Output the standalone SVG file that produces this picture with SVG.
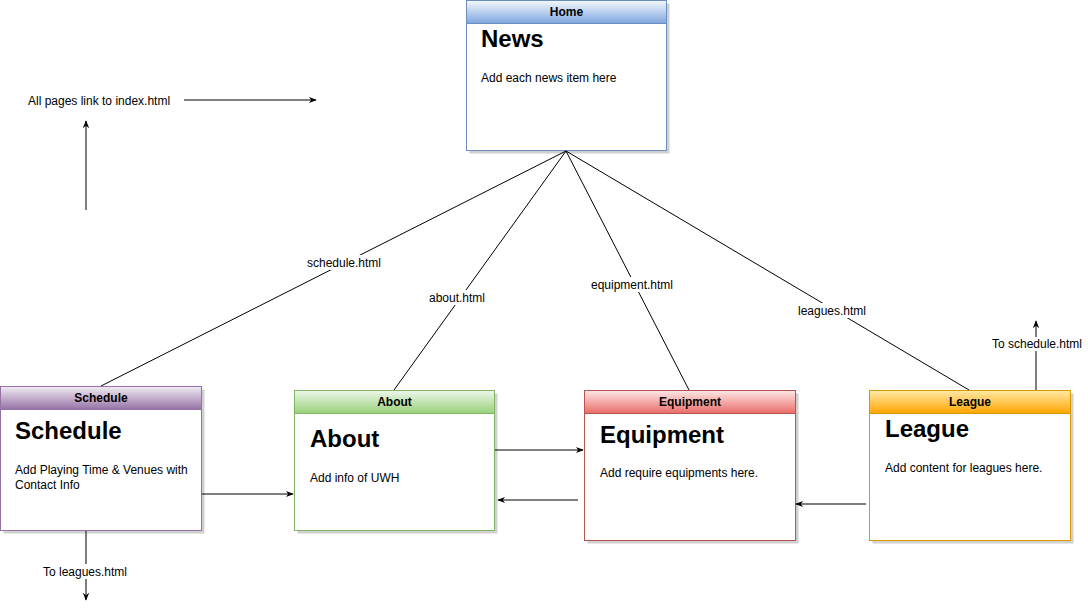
<svg xmlns="http://www.w3.org/2000/svg" width="1088" height="615" viewBox="0 0 1088 615">
  <style>
    text { font-family: "Liberation Sans", Arial, sans-serif; fill: #000; }
    .hdr { font-size: 12px; font-weight: bold; text-anchor: middle; }
    .ttl { font-size: 24px; font-weight: bold; }
    .body { font-size: 12px; }
    .lbl { font-size: 12px; text-anchor: middle; }
    .shadow { fill: #d0d0d0; }
    .card { fill: #fff; stroke-width: 1; }
    .link { stroke: #000; stroke-width: 1; fill: none; }
    .arrow { stroke: #000; stroke-width: 1; fill: none; marker-end: url(#head); }
  </style>
  <defs>
    <marker id="head" viewBox="0 0 10 10" refX="9" refY="5" markerWidth="8" markerHeight="8" markerUnits="userSpaceOnUse" orient="auto">
      <path d="M0,1 L10,5 L0,9 L3,5 Z" fill="#000"/>
    </marker>
    <linearGradient id="gBlue" x1="0" y1="0" x2="0" y2="1">
      <stop offset="0" stop-color="#f4f8fd"/>
      <stop offset="1" stop-color="#7ea6e0"/>
    </linearGradient>
    <linearGradient id="gPurple" x1="0" y1="0" x2="0" y2="1">
      <stop offset="0" stop-color="#f1ebf4"/>
      <stop offset="1" stop-color="#9673a6"/>
    </linearGradient>
    <linearGradient id="gGreen" x1="0" y1="0" x2="0" y2="1">
      <stop offset="0" stop-color="#eef7ec"/>
      <stop offset="1" stop-color="#97d077"/>
    </linearGradient>
    <linearGradient id="gRed" x1="0" y1="0" x2="0" y2="1">
      <stop offset="0" stop-color="#fde8e7"/>
      <stop offset="1" stop-color="#ea6b66"/>
    </linearGradient>
    <linearGradient id="gOrange" x1="0" y1="0" x2="0" y2="1">
      <stop offset="0" stop-color="#ffe9a6"/>
      <stop offset="1" stop-color="#ffa500"/>
    </linearGradient>
  </defs>

  <rect width="1088" height="615" fill="#fff"/>

  <!-- Home -->
  <g id="home">
    <rect class="shadow" x="469.5" y="3.5" width="200" height="150"/>
    <rect class="card" x="466.5" y="0.5" width="200" height="150" stroke="#6c8ebf"/>
    <rect x="466.5" y="0.5" width="200" height="23" fill="url(#gBlue)" stroke="#6c8ebf"/>
    <text class="hdr" x="566.5" y="16">Home</text>
    <text class="ttl" x="481" y="47">News</text>
    <text class="body" x="481" y="82">Add each news item here</text>
  </g>

  <!-- Schedule -->
  <g id="schedule">
    <rect class="shadow" x="3.5" y="389.5" width="201" height="144"/>
    <rect class="card" x="0.5" y="386.5" width="201" height="144" stroke="#9673a6"/>
    <rect x="0.5" y="386.5" width="201" height="23" fill="url(#gPurple)" stroke="#9673a6"/>
    <text class="hdr" x="101" y="402">Schedule</text>
    <text class="ttl" x="15" y="439">Schedule</text>
    <text class="body" x="15" y="474">Add Playing Time &amp; Venues with</text>
    <text class="body" x="15" y="489">Contact Info</text>
  </g>

  <!-- About -->
  <g id="about">
    <rect class="shadow" x="297.5" y="393.5" width="200" height="140"/>
    <rect class="card" x="294.5" y="390.5" width="200" height="140" stroke="#82b366"/>
    <rect x="294.5" y="390.5" width="200" height="23" fill="url(#gGreen)" stroke="#82b366"/>
    <text class="hdr" x="394.5" y="406">About</text>
    <text class="ttl" x="310" y="447">About</text>
    <text class="body" x="310" y="482">Add info of UWH</text>
  </g>

  <!-- Equipment -->
  <g id="equipment">
    <rect class="shadow" x="587.5" y="393.5" width="211" height="150"/>
    <rect class="card" x="584.5" y="390.5" width="211" height="150" stroke="#b85450"/>
    <rect x="584.5" y="390.5" width="211" height="23" fill="url(#gRed)" stroke="#b85450"/>
    <text class="hdr" x="690" y="406">Equipment</text>
    <text class="ttl" x="600" y="443">Equipment</text>
    <text class="body" x="600" y="477">Add require equipments here.</text>
  </g>

  <!-- League -->
  <g id="league">
    <rect class="shadow" x="872.5" y="393.5" width="201" height="150"/>
    <rect class="card" x="869.5" y="390.5" width="201" height="150" stroke="#d79b00"/>
    <rect x="869.5" y="390.5" width="201" height="23" fill="url(#gOrange)" stroke="#d79b00"/>
    <text class="hdr" x="970" y="406">League</text>
    <text class="ttl" x="885" y="437">League</text>
    <text class="body" x="885" y="472">Add content for leagues here.</text>
  </g>

  <!-- links between pages, drawn over the card shadows -->
  <g id="connectors">
    <line class="link" x1="566" y1="151" x2="101" y2="386"/>
    <line class="link" x1="566" y1="151" x2="394" y2="390"/>
    <line class="link" x1="566" y1="151" x2="689" y2="390"/>
    <line class="link" x1="566" y1="151" x2="969" y2="390"/>

    <rect x="305" y="255" width="78" height="15" fill="#fff"/>
    <text class="lbl" x="344" y="267">schedule.html</text>
    <rect x="427" y="290" width="60" height="15" fill="#fff"/>
    <text class="lbl" x="457" y="302">about.html</text>
    <rect x="589" y="277" width="86" height="15" fill="#fff"/>
    <text class="lbl" x="632" y="289">equipment.html</text>
    <rect x="796" y="303" width="72" height="15" fill="#fff"/>
    <text class="lbl" x="832" y="315">leagues.html</text>

    <line class="arrow" x1="202" y1="494" x2="293" y2="494"/>
    <line class="arrow" x1="495" y1="450" x2="583" y2="450"/>
    <line class="arrow" x1="578" y1="500" x2="498" y2="500"/>
    <line class="arrow" x1="866" y1="504" x2="796" y2="504"/>

    <line class="arrow" x1="1036" y1="390" x2="1036" y2="321"/>
    <rect x="990" y="337" width="94" height="14" fill="#fff"/>
    <text class="lbl" x="1037" y="348">To schedule.html</text>

    <line class="arrow" x1="86" y1="531" x2="86" y2="600"/>
    <rect x="40" y="564" width="92" height="15" fill="#fff"/>
    <text class="lbl" x="85" y="576">To leagues.html</text>

    <text class="body" x="28" y="105">All pages link to index.html</text>
    <line class="arrow" x1="184" y1="100" x2="316" y2="100"/>
    <line class="arrow" x1="86" y1="210" x2="86" y2="121"/>
  </g>
</svg>
